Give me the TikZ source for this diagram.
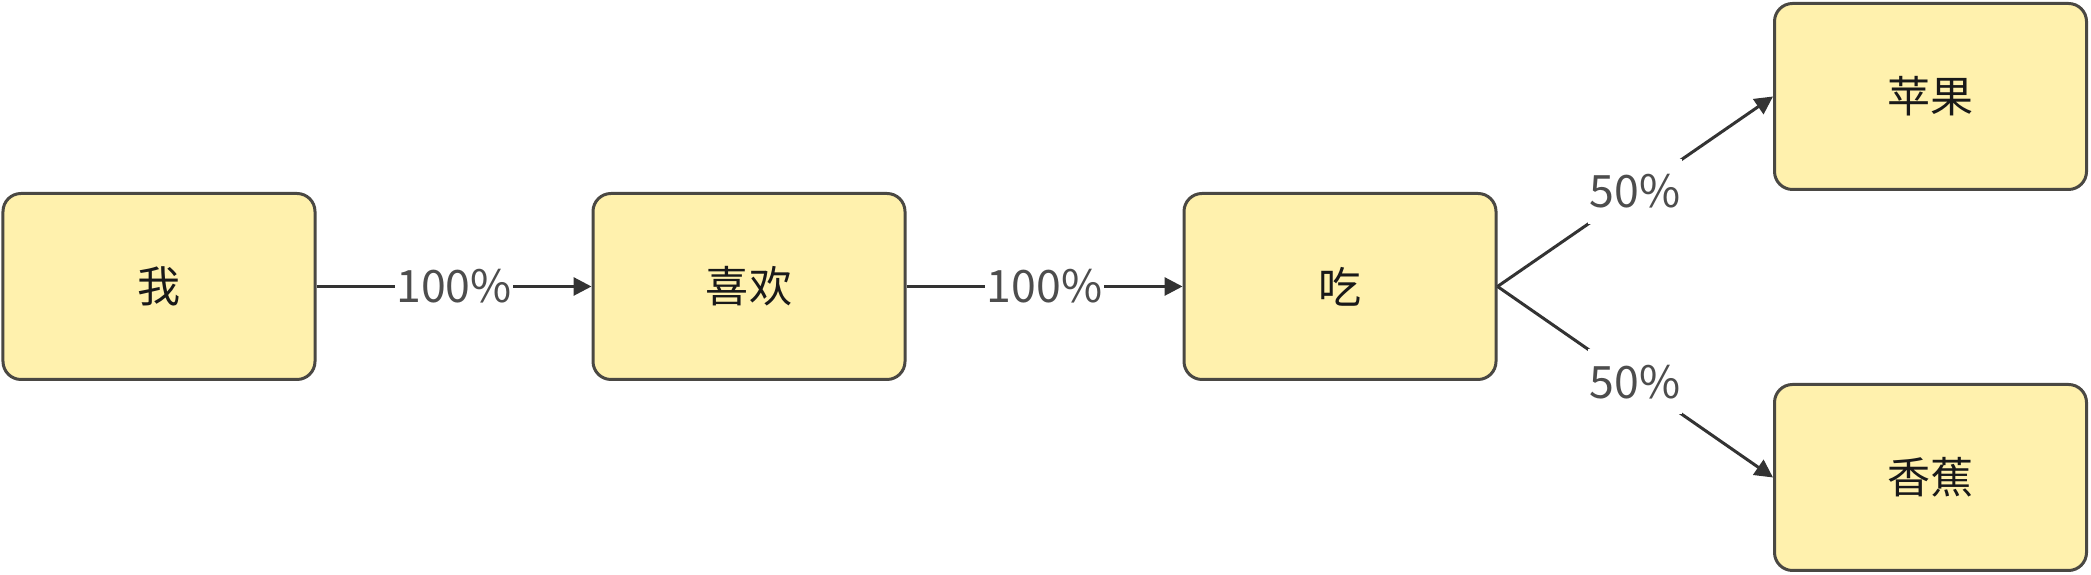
\documentclass[tikz,border=0pt]{standalone}
\usepackage{fontspec}
\setmainfont{Noto Sans CJK SC}
\usepackage{tikz}
\usetikzlibrary{arrows.meta}

\definecolor{boxfill}{HTML}{FFF1AD}
\definecolor{boxline}{HTML}{4A4843}
\definecolor{linkline}{HTML}{333333}
\definecolor{pcttext}{HTML}{4D4D4D}

\begin{document}
\begin{tikzpicture}[
    box/.style={draw=boxline, fill=boxfill, line width=0.06cm, rounded corners=0.36cm,
        minimum width=6.24cm, minimum height=3.72cm, text=black!90,
        font=\fontsize{24.5pt}{28pt}\selectfont},
    link/.style={draw=linkline, line width=0.06cm, -{Triangle[length=0.36cm,width=0.36cm]}},
    pct/.style={fill=white, text=pcttext, inner xsep=1pt, inner ysep=0pt, minimum height=1.3cm,
        font=\fontsize{25.4pt}{29pt}\selectfont}]
   \useasboundingbox (0,0) rectangle (41.82,11.5);

   % boxes
    \node[box] (wo) at (3.18,5.77) {我};
    \node[box] (xihuan) at (14.98,5.77) {喜欢};
    \node[box] (chi) at (26.80,5.77) {吃};
    \node[box] (pingguo) at (38.61,9.57) {苹果};
    \node[box] (xiangjiao) at (38.61,1.95) {香蕉};

    % arrows
    \draw[link] (wo.east) -- node[pct] {100\%} (xihuan.west);
    \draw[link] (xihuan.east) -- node[pct] {100\%} (chi.west);
    \draw[link] (chi.east) -- node[pct] {50\%} (pingguo.west);
    \draw[link] (chi.east) -- node[pct] {50\%} (xiangjiao.west);

\end{tikzpicture}
\end{document}
